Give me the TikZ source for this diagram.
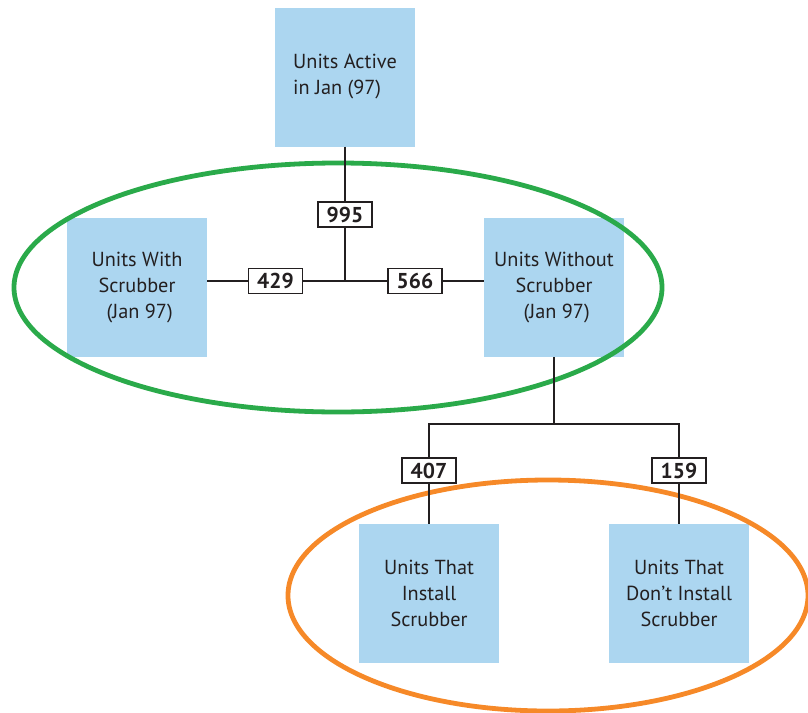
\documentclass[tikz,border=0pt]{standalone}
\usepackage{fontspec}
\setmainfont{PT Sans}
\definecolor{boxblue}{RGB}{172,214,240}
\definecolor{ringgreen}{RGB}{42,170,74}
\definecolor{ringorange}{RGB}{246,137,40}
\definecolor{ink}{RGB}{35,31,32}
\begin{document}
\begin{tikzpicture}[x=1pt,y=-1pt,
  unit/.style={fill=boxblue, minimum width=140pt, minimum height=139pt, inner sep=0pt,
    align=center, text=ink, font=\fontsize{20.3}{26}\selectfont},
  num/.style={draw=ink, line width=1.7pt, fill=white, minimum width=54pt, minimum height=25pt,
    inner sep=0pt, text=ink, font=\fontsize{21.5}{22}\selectfont\bfseries},
  link/.style={draw=ink, line width=1.6pt},
  ring/.style={line width=4.8pt}]
\useasboundingbox (0,0) rectangle (808,712);
% boxes
\node[unit, align=left] (act) at (345,77) {Units Active\\in Jan (97)};
\node[unit] (with) at (137,287.5) {Units With\\Scrubber\\\ (Jan 97)};
\node[unit] (wo) at (554,287.5) {Units Without\\Scrubber\\\ (Jan 97)};
\node[unit] (ins) at (429,593.5) {Units That\\Install\\Scrubber};
\node[unit] (dont) at (679,593.5) {Units That\\Don’t Install\\Scrubber};
% rings
\draw[ring, ringgreen] (338,287.5) ellipse [x radius=324pt, y radius=124.5pt];
\draw[ring, ringorange] (548,595.5) ellipse [x radius=260pt, y radius=115.5pt];
% connectors
\coordinate (j1) at (345,281);
\coordinate (j2) at (554,424);
\draw[link] (act.south) -- (j1);
\draw[link] (with.east |- j1) -- (wo.west |- j1);
\draw[link] (wo.south) -- (j2);
\draw[link] (ins.north) |- (j2) -| (dont.north);
% counts
\node[num] (n995) at (345,214.5) {995};
\node[num] (n429) at (275.5,281) {429};
\node[num] (n566) at (415,281) {566};
\node[num] (n407) at (429,470.5) {407};
\node[num] (n159) at (679,470.5) {159};
\end{tikzpicture}
\end{document}
